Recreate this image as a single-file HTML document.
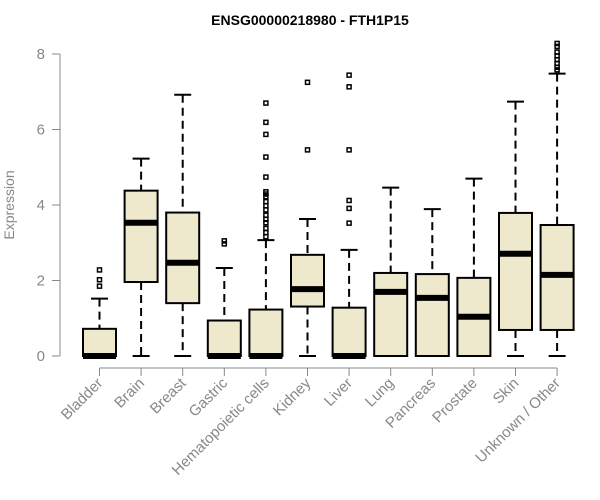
<!DOCTYPE html>
<html><head><meta charset="utf-8"><style>
body{margin:0;background:#fff}
svg{display:block;font-family:"Liberation Sans",Arial,sans-serif}
</style></head><body>
<svg id="chart" width="600" height="500">
<text x="310" y="25" text-anchor="middle" font-weight="bold" font-size="14">ENSG00000218980 - FTH1P15</text>
<text transform="translate(14,205) rotate(-90)" text-anchor="middle" font-size="14" fill="#888">Expression</text>
<g id="yaxis"></g>
<g id="xaxis"></g>
<g id="boxes"></g>
</svg>
<script>
const categories=["Bladder","Brain","Breast","Gastric","Hematopoietic cells","Kidney","Liver","Lung","Pancreas","Prostate","Skin","Unknown / Other"];
const lowWhisker=[0,0,0,0,0,0,0,0,0,0,0,0];
const q1=[0,1.96,1.40,0,0,1.31,0,0,0,0,0.69,0.69];
const medians=[0,3.53,2.47,0,0,1.77,0,1.70,1.54,1.04,2.71,2.15];
const q3=[0.72,4.38,3.80,0.94,1.23,2.68,1.28,2.20,2.17,2.07,3.79,3.47];
const highWhisker=[1.52,5.23,6.92,2.33,3.07,3.63,2.81,4.46,3.89,4.70,6.74,7.48];
const outliers=[[1.85,2.02,2.28],[],[],[2.97,3.05],[3.16,3.27,3.38,3.53,3.62,3.73,3.87,3.98,4.09,4.22,4.29,4.35,4.74,5.27,5.87,6.19,6.70],[5.46,7.25],[3.52,3.91,4.12,5.46,7.13,7.44],[],[],[],[],[7.58,7.65,7.75,7.85,7.95,8.05,8.2,8.28]];
const yTicks=[0,2,4,6,8];
const NS="http://www.w3.org/2000/svg";
const y=v=>356-v*37.75;
const x=i=>99.5+i*41.6;
function mk(p,t,a){const e=document.createElementNS(NS,t);for(const k in a)e.setAttribute(k,a[k]);p.appendChild(e);return e;}
const ya=document.getElementById('yaxis');
const ln=mk(ya,'line',{x1:60,x2:60,y1:y(8),y2:y(0),stroke:'#888'});


yTicks.forEach(t=>{
 const tk=mk(ya,'line',{x1:52,x2:60,y1:y(t),y2:y(t),stroke:'#888'});
 
 
 const tl=mk(ya,'text',{x:45,y:y(t)+5,'text-anchor':'end','font-size':15,fill:'#888'});
 tl.textContent=t;
 
 
});
const xa=document.getElementById('xaxis');
const xl=mk(xa,'line',{x1:x(0),x2:x(categories.length-1),y1:368,y2:368,stroke:'#888'});


categories.forEach((c,i)=>{
 const tk=mk(xa,'line',{x1:x(i),x2:x(i),y1:368,y2:376,stroke:'#888'});
 
 
 const tl=mk(xa,'text',{transform:`translate(${x(i)+4},${384}) rotate(-45)`,'text-anchor':'end','font-size':15,fill:'#888'});
 tl.textContent=c;
 
 
});
const bx=document.getElementById('boxes');
categories.forEach((c,i)=>{
 const g=mk(bx,'g',{});
 
 
 const cx=x(i),hw=16.5,cw=8.5;
 mk(g,'line',{x1:cx,x2:cx,y1:y(highWhisker[i]),y2:y(q3[i]),stroke:'#000','stroke-width':2,'stroke-dasharray':'8,5'});
 mk(g,'line',{x1:cx,x2:cx,y1:y(q1[i]),y2:y(lowWhisker[i]),stroke:'#000','stroke-width':2,'stroke-dasharray':'8,5'});
 mk(g,'line',{x1:cx-cw,x2:cx+cw,y1:y(highWhisker[i]),y2:y(highWhisker[i]),stroke:'#000','stroke-width':2});
 mk(g,'line',{x1:cx-cw,x2:cx+cw,y1:y(lowWhisker[i]),y2:y(lowWhisker[i]),stroke:'#000','stroke-width':2});
 mk(g,'rect',{x:cx-hw,y:y(q3[i]),width:hw*2,height:Math.max(0,y(q1[i])-y(q3[i])),fill:'#EEE8CD',stroke:'#000','stroke-width':2});
 mk(g,'line',{x1:cx-hw,x2:cx+hw,y1:y(medians[i]),y2:y(medians[i]),stroke:'#000','stroke-width':6});
 outliers[i].forEach(o=>{
  const r=mk(g,'rect',{x:cx-2,y:y(o)-2,width:4,height:4,fill:'none',stroke:'#000','stroke-width':1.5});
  
  
 });
});
</script>
</body></html>
